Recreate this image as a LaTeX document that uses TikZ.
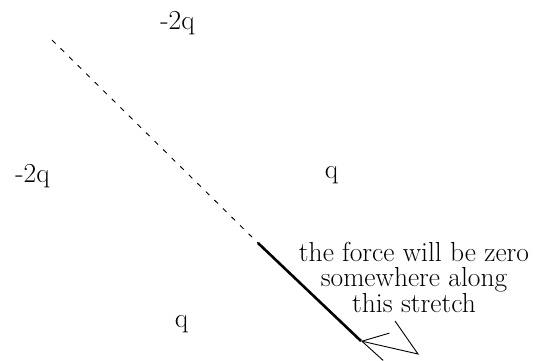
\documentclass[tikz,border=0pt]{standalone}
\usetikzlibrary{arrows.meta}
\begin{document}
\begin{tikzpicture}[x=1pt,y=-1pt,
  lbl/.style={inner sep=0pt,anchor=base,font=\fontsize{27.5}{24.5}\selectfont},
  thinline/.style={line width=0.9pt,dash pattern=on 5pt off 7pt},
  thickline/.style={line width=2.6pt},
  pointer/.style={line width=0.9pt,-{Straight Barb[length=25pt,width=28pt,line width=0.9pt]}}]
\useasboundingbox (0,0) rectangle (536,360);
\node[lbl] (qa) at (177.5,29) {-2q};
\node[lbl] (qb) at (32.5,182) {-2q};
\node[lbl] (qc) at (331.5,178) {q};
\node[lbl] (qd) at (181.5,327) {q};
\node[lbl,align=center] (note) at (414,312) {the force will be zero\\somewhere along\\this stretch};
\coordinate (p0) at (52,40);
\coordinate (p1) at (258,243);
\coordinate (p2) at (361,341);
\coordinate (t0) at (395,321);
\coordinate (t1) at (418,354);
\draw[thinline] (p0) -- (p1);
\draw[thickline] (p1) -- (p2);
\draw[pointer] (t0) -- (t1) -- (p2);
\end{tikzpicture}
\end{document}
